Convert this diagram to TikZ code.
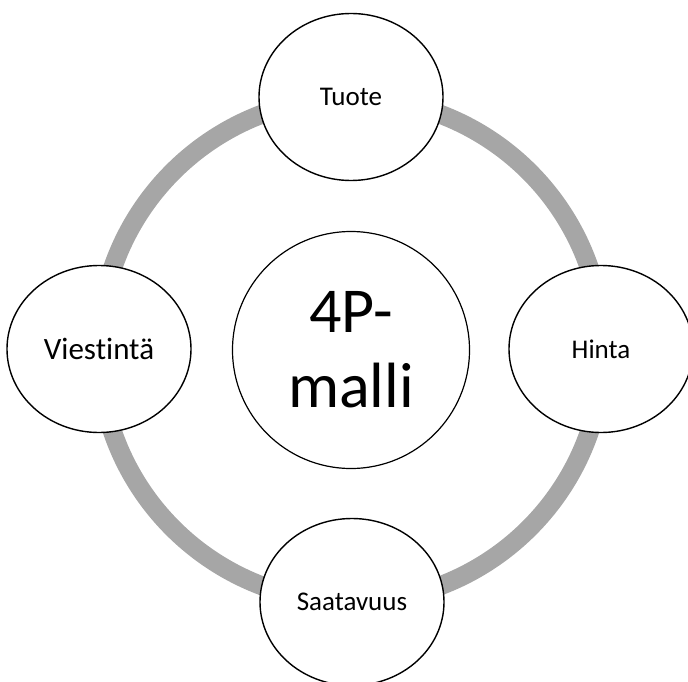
\documentclass[tikz,border=0pt]{standalone}
\usepackage{fontspec}
\setmainfont{Carlito}[Ligatures={NoCommon}]
\usetikzlibrary{shapes.geometric}
\definecolor{ringgray}{RGB}{166,166,166}
\tikzset{
  pnode/.style={ellipse, draw=black, line width=1.4pt, fill=white,
    minimum width=184pt, minimum height=167pt, inner sep=0pt,
    font=\fontsize{27}{32}\selectfont},
  pnodebig/.style={pnode, font=\fontsize{31}{37}\selectfont},
  hub/.style={circle, draw=black, line width=1.2pt, fill=white,
    minimum size=237pt, inner sep=0pt, align=center,
    font=\fontsize{64}{75}\selectfont},
  ring/.style={draw=ringgray, line width=19pt},
}
\begin{document}
\begin{tikzpicture}[x=1pt,y=-1pt]
    \useasboundingbox (0,0) rectangle (688,682);
    \clip (0,0) rectangle (688,682);
    \coordinate (mid) at (351,350);
    \draw[ring] (mid) circle[radius=252pt];
    \node[hub](malli) at (mid){4P-\\malli};
    \node[pnode](tuote) at (351,97){Tuote};
    \node[pnodebig](viestinta) at (99,349){Viestintä};
    \node[pnode](hinta) at (601,349){Hinta};
    \node[pnode](saatavuus) at (352,602){Saatavuus};
  \end{tikzpicture}
\end{document}
